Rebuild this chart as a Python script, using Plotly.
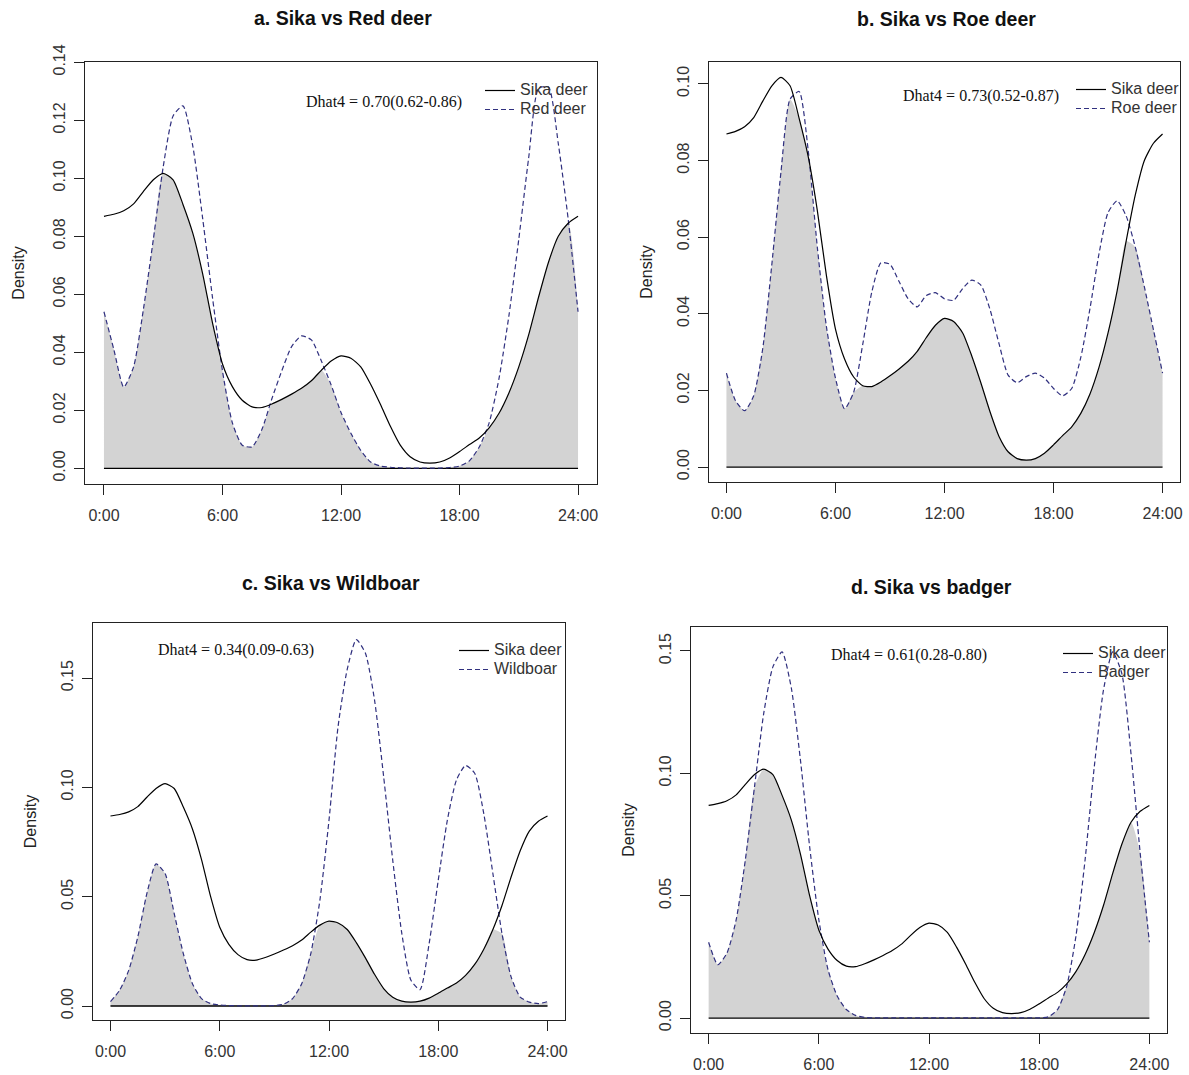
import plotly.graph_objects as go

# ---------------- data ----------------
hours = [0.0, 0.5, 1.0, 1.5, 2.0, 2.5, 3.0, 3.5, 4.0, 4.5, 5.0, 5.5, 6.0, 6.5, 7.0, 7.5,
         8.0, 8.5, 9.0, 9.5, 10.0, 10.5, 11.0, 11.5, 12.0, 12.5, 13.0, 13.5, 14.0, 14.5,
         15.0, 15.5, 16.0, 16.5, 17.0, 17.5, 18.0, 18.5, 19.0, 19.5, 20.0, 20.5, 21.0,
         21.5, 22.0, 22.5, 23.0, 23.5, 24.0]

sika = [0.0869, 0.0876, 0.0888, 0.0912, 0.0955, 0.0995, 0.1017, 0.0995, 0.0910, 0.0810,
        0.0670, 0.0500, 0.0360, 0.0282, 0.0235, 0.0212, 0.0210, 0.0222, 0.0238, 0.0256,
        0.0276, 0.0302, 0.0338, 0.0370, 0.0388, 0.0380, 0.0350, 0.0290, 0.0220, 0.0145,
        0.0080, 0.0040, 0.0022, 0.0018, 0.0022, 0.0036, 0.0058, 0.0082, 0.0105, 0.0140,
        0.0190, 0.0260, 0.0350, 0.0460, 0.0590, 0.0710, 0.0800, 0.0845, 0.0869]

red_deer = [0.0540, 0.0410, 0.0280, 0.0350, 0.0550, 0.0790, 0.1040, 0.1215, 0.1250, 0.1110,
            0.0860, 0.0586, 0.0336, 0.0157, 0.0080, 0.0074, 0.0135, 0.0240, 0.0336, 0.0420,
            0.0457, 0.0443, 0.0371, 0.0288, 0.0193, 0.0121, 0.0062, 0.0022, 0.0008, 0.0004,
            0.0002, 0.0001, 0.0001, 0.0001, 0.0001, 0.0003, 0.0008, 0.0026, 0.0074, 0.0157,
            0.0310, 0.0526, 0.0790, 0.1070, 0.1310, 0.1315, 0.1120, 0.0860, 0.0540]

roe_deer = [0.0245, 0.0173, 0.0147, 0.0186, 0.0310, 0.0530, 0.0770, 0.0960, 0.0980, 0.0826,
            0.0574, 0.0367, 0.0232, 0.0152, 0.0195, 0.0320, 0.0457, 0.0533, 0.0529, 0.0484,
            0.0439, 0.0418, 0.0448, 0.0455, 0.0439, 0.0435, 0.0466, 0.0488, 0.0475, 0.0412,
            0.0322, 0.0240, 0.0220, 0.0236, 0.0245, 0.0232, 0.0205, 0.0186, 0.0205, 0.0286,
            0.0412, 0.0556, 0.0664, 0.0695, 0.0655, 0.0574, 0.0470, 0.0358, 0.0245]

wildboar = [0.0020, 0.0072, 0.0163, 0.0316, 0.0515, 0.0650, 0.0606, 0.0423, 0.0240, 0.0102,
            0.0034, 0.0011, 0.0005, 0.0002, 0.0001, 0.0001, 0.0001, 0.0001, 0.0002, 0.0008,
            0.0034, 0.0102, 0.0240, 0.0484, 0.0850, 0.1280, 0.1540, 0.1676, 0.1614, 0.1400,
            0.1050, 0.0667, 0.0331, 0.0118, 0.0075, 0.0286, 0.0576, 0.0850, 0.1034, 0.1100,
            0.1065, 0.0880, 0.0606, 0.0331, 0.0133, 0.0041, 0.0018, 0.0011, 0.0020]

badger = [0.0310, 0.0218, 0.0266, 0.0402, 0.0647, 0.0946, 0.1245, 0.1435, 0.1496, 0.1350,
          0.1054, 0.0701, 0.0402, 0.0198, 0.0090, 0.0035, 0.0011, 0.0003, 0.0001, 0.0001,
          0.0001, 0.0001, 0.0001, 0.0001, 0.0001, 0.0001, 0.0001, 0.0001, 0.0001, 0.0001,
          0.0001, 0.0001, 0.0001, 0.0001, 0.0001, 0.0001, 0.0001, 0.0005, 0.0035, 0.0130,
          0.0334, 0.0647, 0.1027, 0.1340, 0.1496, 0.1408, 0.1080, 0.0674, 0.0310]

panel_titles = ["a. Sika vs Red deer", "b. Sika vs Roe deer", "c. Sika vs Wildboar", "d. Sika vs badger"]
other_names = ["Red deer", "Roe deer", "Wildboar", "Badger"]
other_series = [red_deer, roe_deer, wildboar, badger]
dhat_text = ["Dhat4 = 0.70(0.62-0.86)", "Dhat4 = 0.73(0.52-0.87)",
             "Dhat4 = 0.34(0.09-0.63)", "Dhat4 = 0.61(0.28-0.80)"]
x_tickvals = [0, 6, 12, 18, 24]
x_ticktext = ["0:00", "6:00", "12:00", "18:00", "24:00"]
y_tickvals = [[0, 0.02, 0.04, 0.06, 0.08, 0.10, 0.12, 0.14],
              [0, 0.02, 0.04, 0.06, 0.08, 0.10],
              [0, 0.05, 0.10, 0.15],
              [0, 0.05, 0.10, 0.15]]

# ---------------- layout geometry (pixels) ----------------
W, H = 1189, 1075
boxes = [(85, 62, 597, 484), (709, 62, 1180, 482), (93, 623, 565, 1020), (691, 627, 1167, 1033)]
y_ranges = [[-0.00538, 0.1401], [-0.0039, 0.1057], [-0.0064, 0.1752], [-0.0061, 0.1598]]
title_y = [18, 19, 583, 587]
dhat_pos = [(14.2, 0.1263), (14.0, 0.0967), (6.88, 0.1628), (10.92, 0.1484)]
legend_pos = [(480, 76), (1071, 75), (454, 636), (1058, 639)]
ytitle_standoff = [21, 17, 17, 17]

SANS = "Liberation Sans, Arial, sans-serif"
SERIF = "Liberation Serif, Times New Roman, serif"
DASH_COL = "#30307f"


def legend_label(s):
    return "<span style='font-size:16px'>" + s + "</span>"


fig = go.Figure()
annotations = []
layout_axes = {}

for i in range(4):
    sfx = "" if i == 0 else str(i + 1)
    xa, ya = "x" + sfx, "y" + sfx
    leg = "legend" + sfx
    other = other_series[i]
    overlap = [min(a, b) for a, b in zip(sika, other)]

    fig.add_trace(go.Scatter(x=hours, y=overlap, mode="lines", line=dict(width=0, shape="spline", smoothing=0.6),
                             fill="tozeroy", fillcolor="#d3d3d3", showlegend=False, hoverinfo="skip",
                             xaxis=xa, yaxis=ya))
    fig.add_trace(go.Scatter(x=[hours[0], hours[-1]], y=[0, 0], mode="lines", line=dict(color="black", width=1.3),
                             showlegend=False, hoverinfo="skip", xaxis=xa, yaxis=ya))
    fig.add_trace(go.Scatter(x=hours, y=other, mode="lines", name=legend_label(other_names[i]),
                             line=dict(color=DASH_COL, width=1.2, dash="5px,3px", shape="spline", smoothing=0.6),
                             legend=leg, legendrank=2, xaxis=xa, yaxis=ya))
    fig.add_trace(go.Scatter(x=hours, y=sika, mode="lines", name=legend_label("Sika deer"),
                             line=dict(color="black", width=1.2, shape="spline", smoothing=0.6),
                             legend=leg, legendrank=1, xaxis=xa, yaxis=ya))

    l, t, r, b = boxes[i]
    axis_common = dict(showline=True, mirror=True, linecolor="#222", linewidth=1, ticks="outside",
                       ticklen=10, tickcolor="#222", showgrid=False, zeroline=False, automargin=False,
                       tickfont=dict(family=SANS, size=16, color="#333"))
    layout_axes["xaxis" + sfx] = dict(domain=[l / W, r / W], range=[-0.96, 24.96], anchor=ya,
                                      tickvals=x_tickvals, ticktext=x_ticktext, ticklabelstandoff=7,
                                      **axis_common)
    layout_axes["yaxis" + sfx] = dict(domain=[1 - b / H, 1 - t / H], range=y_ranges[i], anchor=xa,
                                      tickvals=y_tickvals[i], tickformat=".2f", tickangle=-90,
                                      ticklabelstandoff=3,
                                      title=dict(text="Density", standoff=ytitle_standoff[i],
                                                 font=dict(family=SANS, size=16, color="#222")),
                                      **axis_common)
    layout_axes[leg] = dict(x=legend_pos[i][0] / W, y=1 - legend_pos[i][1] / H, xanchor="left", yanchor="top",
                            bgcolor="rgba(0,0,0,0)", font=dict(family=SANS, size=12, color="#333"),
                            tracegroupgap=0, itemwidth=30)

    annotations.append(dict(text="<b>" + panel_titles[i] + "</b>", xref="paper", yref="paper",
                            x=((l + r) / 2 + 2) / W, y=1 - title_y[i] / H, xanchor="center", yanchor="middle",
                            showarrow=False, font=dict(family=SANS, size=19.5, color="#111")))
    annotations.append(dict(text=dhat_text[i], xref=xa, yref=ya, x=dhat_pos[i][0], y=dhat_pos[i][1],
                            xanchor="center", yanchor="middle", showarrow=False,
                            font=dict(family=SERIF, size=16, color="#111")))

fig.update_layout(width=W, height=H, margin=dict(l=0, r=0, t=0, b=0, autoexpand=False), paper_bgcolor="white",
                  plot_bgcolor="white", annotations=annotations, **layout_axes)

fig.write_html("out.html")
